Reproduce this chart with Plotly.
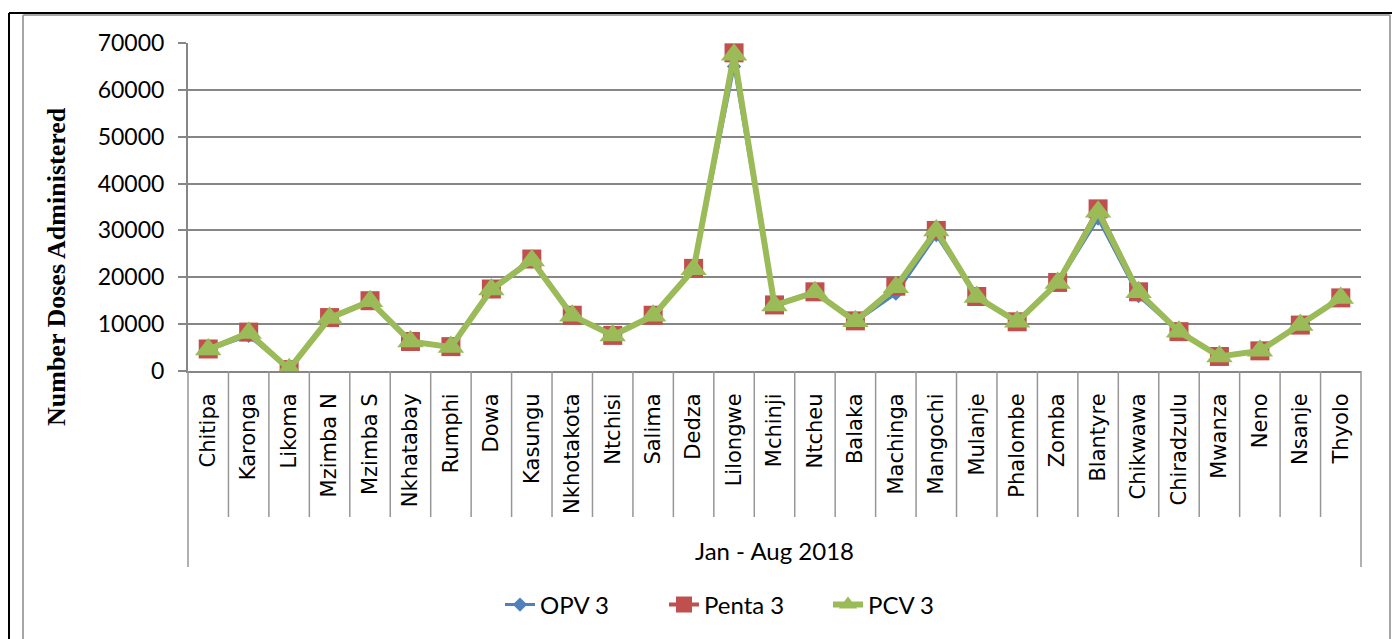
import plotly.graph_objects as go

districts = ["Chitipa", "Karonga", "Likoma", "Mzimba N", "Mzimba S", "Nkhatabay", "Rumphi",
             "Dowa", "Kasungu", "Nkhotakota", "Ntchisi", "Salima", "Dedza", "Lilongwe",
             "Mchinji", "Ntcheu", "Balaka", "Machinga", "Mangochi", "Mulanje", "Phalombe",
             "Zomba", "Blantyre", "Chikwawa", "Chiradzulu", "Mwanza", "Neno", "Nsanje", "Thyolo"]

opv3 = [4500, 7500, 300, 11000, 14700, 6200, 5000, 17000, 23400, 11700, 7500, 11700, 21600, 65000,
        14000, 16500, 10500, 16500, 29000, 15700, 10400, 18600, 32500, 16000, 8300, 3000, 4200, 9700, 15500]
penta3 = [4700, 8300, 300, 11400, 15000, 6300, 5200, 17500, 23900, 11900, 7600, 11900, 21900, 67900,
          14100, 16900, 10700, 18100, 30000, 15900, 10500, 18900, 34600, 16900, 8400, 3100, 4300, 9800, 15600]
pcv3 = [4600, 8100, 400, 11300, 14900, 6300, 5100, 17400, 23600, 11800, 7600, 11800, 21700, 67500,
        14000, 16800, 10600, 17900, 30000, 15800, 10500, 18800, 34000, 16800, 8400, 3100, 4300, 9800, 15600]

period_label = "Jan - Aug 2018"
y_title = "Number Doses Administered"

# page body has an 8px margin; target positions below are screen pixels
OFF = 8
W, H = 1400 - OFF, 639 - OFF
L, R, T, B = 188, 1361, 43, 371

def px2x(px):
    return (px - L) / (R - L)

def py2y(py):
    return (B - py) / (B - T)

fig = go.Figure()
fig.add_trace(go.Scatter(x=districts, y=opv3, name="OPV 3", mode="lines+markers",
                         line=dict(color="#4F81BD", width=3),
                         marker=dict(symbol="diamond", size=11, color="#4F81BD")))
fig.add_trace(go.Scatter(x=districts, y=penta3, name="Penta 3", mode="lines+markers",
                         line=dict(color="#C0504D", width=4),
                         marker=dict(symbol="square", size=19, color="#C0504D")))
fig.add_trace(go.Scatter(x=districts, y=pcv3, name="PCV 3", mode="lines+markers",
                         line=dict(color="#9BBB59", width=6),
                         marker=dict(symbol="triangle-up", size=23, color="#9BBB59")))

grid = "#868686"
shapes = []
n = len(districts)
for i in range(n + 1):
    bottom = 567 if i in (0, n) else 517
    shapes.append(dict(type="line", xref="x domain", yref="paper", x0=i / n, x1=i / n,
                       y0=0, y1=py2y(bottom), line=dict(color="#969696", width=1.5)))
# outer frame
shapes.append(dict(type="line", xref="paper", yref="paper", x0=px2x(9), x1=px2x(1400),
                   y0=py2y(13), y1=py2y(13), line=dict(color="black", width=2)))
shapes.append(dict(type="line", xref="paper", yref="paper", x0=px2x(9), x1=px2x(9),
                   y0=py2y(13), y1=py2y(640), line=dict(color="black", width=2)))
shapes.append(dict(type="line", xref="paper", yref="paper", x0=px2x(23), x1=px2x(1390),
                   y0=py2y(15), y1=py2y(15), line=dict(color="#A6A6A6", width=2)))
shapes.append(dict(type="line", xref="paper", yref="paper", x0=px2x(23), x1=px2x(23),
                   y0=py2y(15), y1=py2y(640), line=dict(color="#A6A6A6", width=2)))
shapes.append(dict(type="line", xref="paper", yref="paper", x0=px2x(1390), x1=px2x(1390),
                   y0=py2y(15), y1=py2y(640), line=dict(color="#A6A6A6", width=2)))

annotations = [
    dict(text=period_label, xref="paper", yref="paper", x=0.5, y=py2y(550),
         xanchor="center", yanchor="middle", showarrow=False,
         font=dict(family="Lato", size=24, color="black")),
    dict(text="<b>" + y_title + "</b>", xref="paper", yref="paper", x=px2x(56), y=py2y(267),
         xanchor="center", yanchor="middle", showarrow=False, textangle=-90,
         font=dict(family="Liberation Serif", size=26, color="black")),
]

fig.update_layout(
    width=W, height=H,
    margin=dict(l=L - OFF, r=W - (R - OFF), t=T - OFF, b=H - (B - OFF)),
    paper_bgcolor="white", plot_bgcolor="white",
    shapes=shapes, annotations=annotations,
    showlegend=True,
    legend=dict(orientation="h", x=px2x(500), y=py2y(605), xanchor="left", yanchor="middle",
                font=dict(family="Lato", size=24, color="black"), bgcolor="rgba(0,0,0,0)",
                itemsizing="trace", entrywidth=119, entrywidthmode="pixels"),
    xaxis=dict(type="category", range=[-0.5, n - 0.5], showline=True, linecolor=grid, linewidth=2,
               ticks="", tickangle=-90, showgrid=False, zeroline=False, automargin=False,
               tickfont=dict(family="DejaVu Sans", size=21, color="black"),
               ticklabelstandoff=12),
    yaxis=dict(range=[0, 70000], dtick=10000, showline=True, linecolor=grid, linewidth=2,
               ticks="outside", ticklen=8, tickwidth=2, tickcolor=grid,
               showgrid=True, gridcolor=grid, gridwidth=2, zeroline=False, automargin=False,
               tickformat="d", tickfont=dict(family="Lato", size=23, color="black"),
               ticklabelstandoff=9),
)

fig.write_html("out.html")
